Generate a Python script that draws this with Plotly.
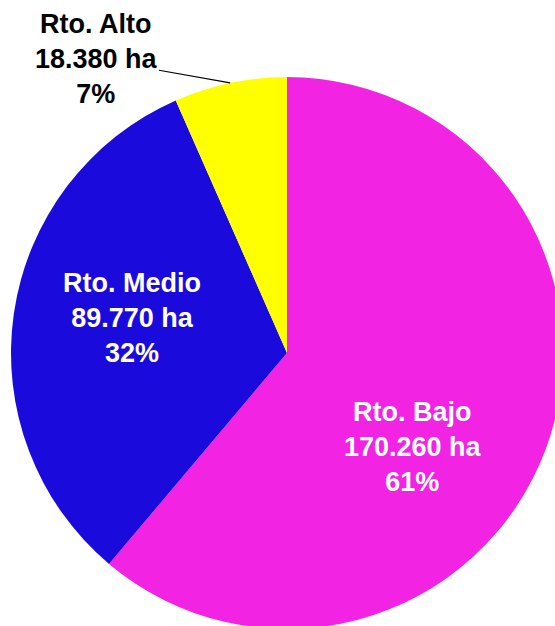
import math
import plotly.graph_objects as go

# ---- data ----
labels = ["Rto. Bajo", "Rto. Medio", "Rto. Alto"]
values = [170260, 89770, 18380]
colors = ["#F223E3", "#1B0ADC", "#FFFF00"]
label_colors = ["white", "white", "black"]

# ---- layout geometry (pixels) ----
W, H = 563, 629
ML, MR, MT, MB = 11, 0, 77, 0
PW = W - ML - MR
PH = H - MT - MB

def px_to_paper(px, py):
    return (px - ML) / PW, 1 - (py - MT) / PH

total = sum(values)

def fmt(v):
    return f"{v:,}".replace(",", ".")

texts = [f"<b>{l}<br>{fmt(v)} ha<br>{round(100 * v / total)}%</b>" for l, v in zip(labels, values)]

fig = go.Figure(go.Pie(
    labels=labels,
    values=values,
    sort=False,
    direction="clockwise",
    rotation=0,
    marker=dict(colors=colors, line=dict(width=0)),
    textinfo="none",
    hoverinfo="none",
    showlegend=False,
    domain=dict(x=[0, 1], y=[0, 1]),
))

font = "Arial, 'Liberation Sans', sans-serif"
# label placements (pixel centers)
label_pos = [(413, 447), (132, 318), (96, 59)]

for i in range(2):
    x, y = px_to_paper(*label_pos[i])
    fig.add_annotation(x=x, y=y, xref="paper", yref="paper", text=texts[i],
                       showarrow=False, xanchor="center", yanchor="middle",
                       font=dict(family=font, size=27, color=label_colors[i]))

# Alto label with leader line pointing at the slice mid-angle on the rim
cx, cy, R = ML + PW / 2, MT + PH / 2, PW / 2
cum = sum(values[:2]) + values[2] / 2
ang = 2 * math.pi * cum / total
hx, hy = cx + R * math.sin(ang), cy - R * math.cos(ang)
tx, ty = label_pos[2]
hxp, hyp = px_to_paper(hx, hy)
fig.add_annotation(x=hxp, y=hyp, xref="paper", yref="paper", text=texts[2],
                   showarrow=True, arrowhead=0, arrowwidth=1.2, arrowcolor="black",
                   ax=tx - hx, ay=ty - hy, axref="pixel", ayref="pixel",
                   xanchor="center", yanchor="middle",
                   font=dict(family=font, size=27, color=label_colors[2]))

fig.update_layout(
    width=W, height=H,
    margin=dict(l=ML, r=MR, t=MT, b=MB, pad=0),
    paper_bgcolor="white",
    plot_bgcolor="white",
)

fig.write_html("out.html", config={"displayModeBar": False},
               post_script="document.documentElement.style.overflow='hidden';document.body.style.overflow='hidden';document.body.style.margin='0';")
